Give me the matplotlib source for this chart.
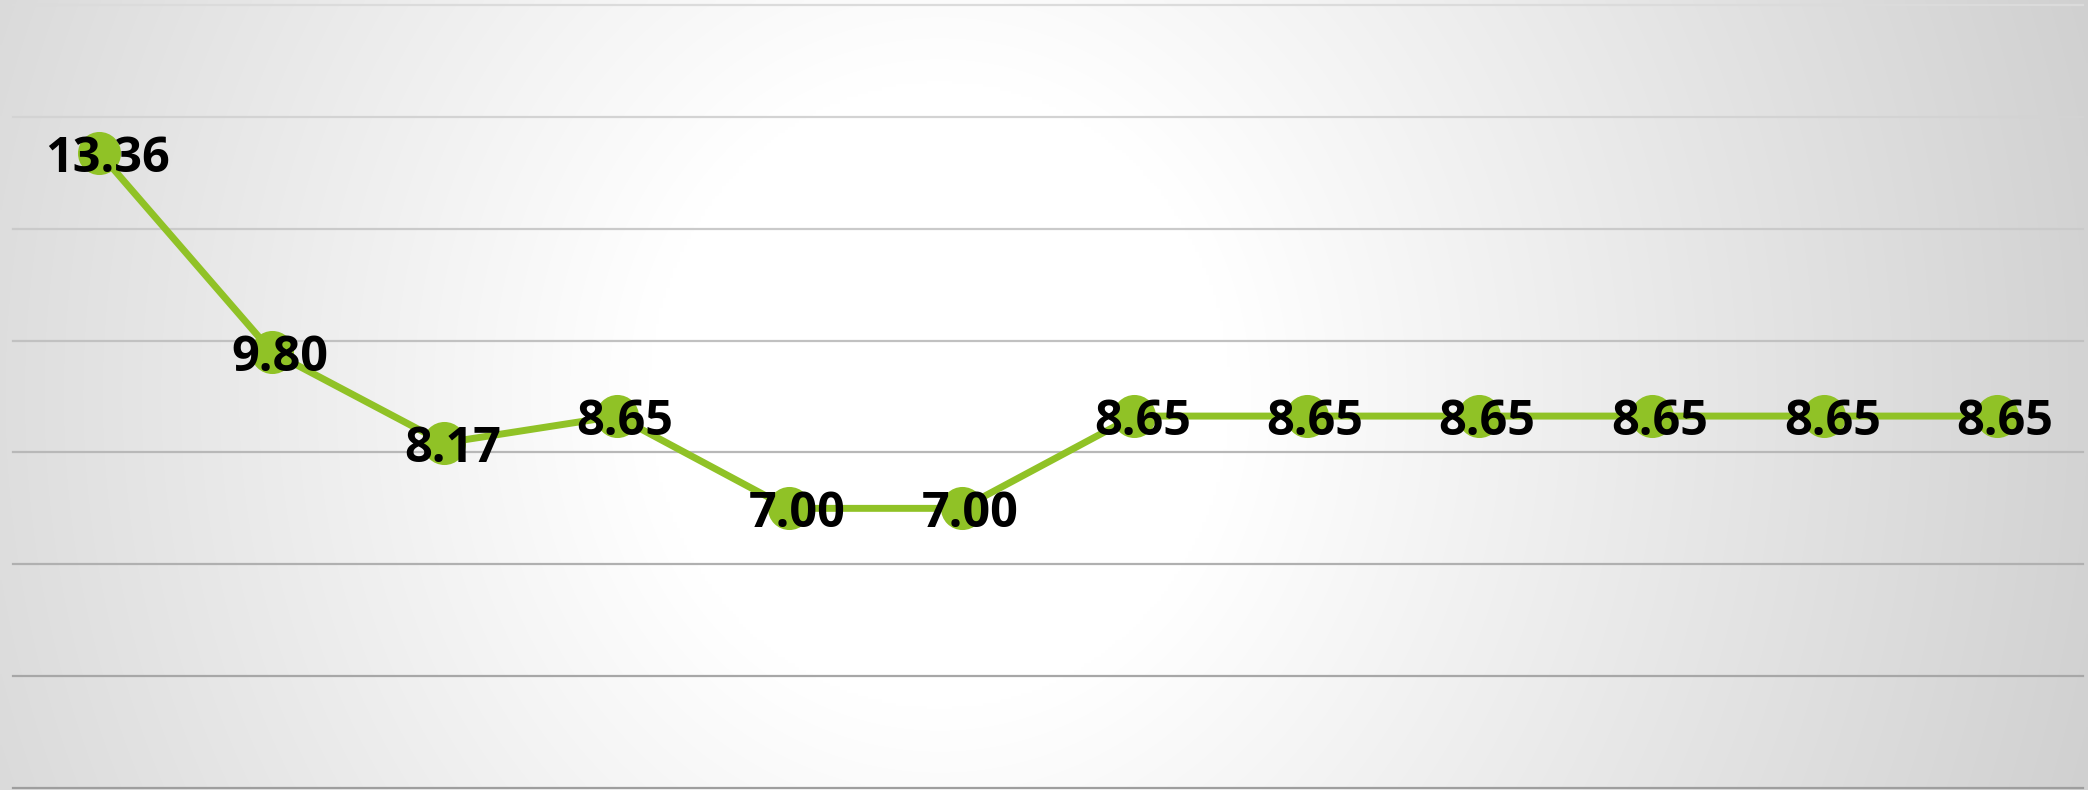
import numpy as np
import matplotlib
matplotlib.use("Agg")
import matplotlib.pyplot as plt
from matplotlib.colors import LinearSegmentedColormap

# ---- data ----
categories = list(range(1, 13))
values = [13.36, 9.80, 8.17, 8.65, 7.00, 7.00, 8.65, 8.65, 8.65, 8.65, 8.65, 8.65]
y_ticks = [2, 4, 6, 8, 10, 12, 14, 16]

W, H, DPI = 2088, 790, 100
fig = plt.figure(figsize=(W / DPI, H / DPI), dpi=DPI)

# ---- background radial-ish gradient ----
bg = fig.add_axes([0, 0, 1, 1], zorder=0)
gx, gy = np.meshgrid(np.linspace(0, 1, 600), np.linspace(0, 1, 240))
d = np.sqrt((gx - 0.45) ** 2 + ((gy - 0.5) * 0.35) ** 2)
inten = 1 - np.clip(d - 0.14, 0, None) * 0.42
bg.imshow(np.dstack([inten] * 3), extent=[0, 1, 0, 1], aspect="auto", origin="lower",
          interpolation="bilinear")
bg.set_axis_off()

# ---- main axes ----
ax = fig.add_axes([13 / W, 2 / H, (2083 - 13) / W, 783 / H], zorder=1)
ax.set_facecolor("none")
x = np.arange(len(categories))
ax.set_xlim(-0.5, len(categories) - 0.5)
ax.set_ylim(y_ticks[0], y_ticks[-1])

top_c, bot_c = np.array([0.86, 0.86, 0.86]), np.array([0.62, 0.62, 0.62])
for t in y_ticks:
    f = (t - y_ticks[0]) / (y_ticks[-1] - y_ticks[0])
    c = bot_c + (top_c - bot_c) * f
    ax.axhline(t, color=c, lw=1.6, zorder=1, clip_on=False)

green = "#90c226"
ax.plot(x, values, color=green, lw=5, solid_capstyle="round", zorder=2)
ax.plot(x, values, "o", color=green, markersize=31, markeredgewidth=0, zorder=3)

for xi, v in zip(x, values):
    ax.annotate(f"{v:.2f}", (xi, v), xytext=(8 * 0.72, -19 * 0.72),
                textcoords="offset points", ha="center", va="baseline",
                fontsize=35, fontweight="bold", family=["Open Sans", "DejaVu Sans"],
                color="black", zorder=4)

for s in ax.spines.values():
    s.set_visible(False)
ax.set_xticks([])
ax.set_yticks([])

fig.savefig("out.png", dpi=DPI)
